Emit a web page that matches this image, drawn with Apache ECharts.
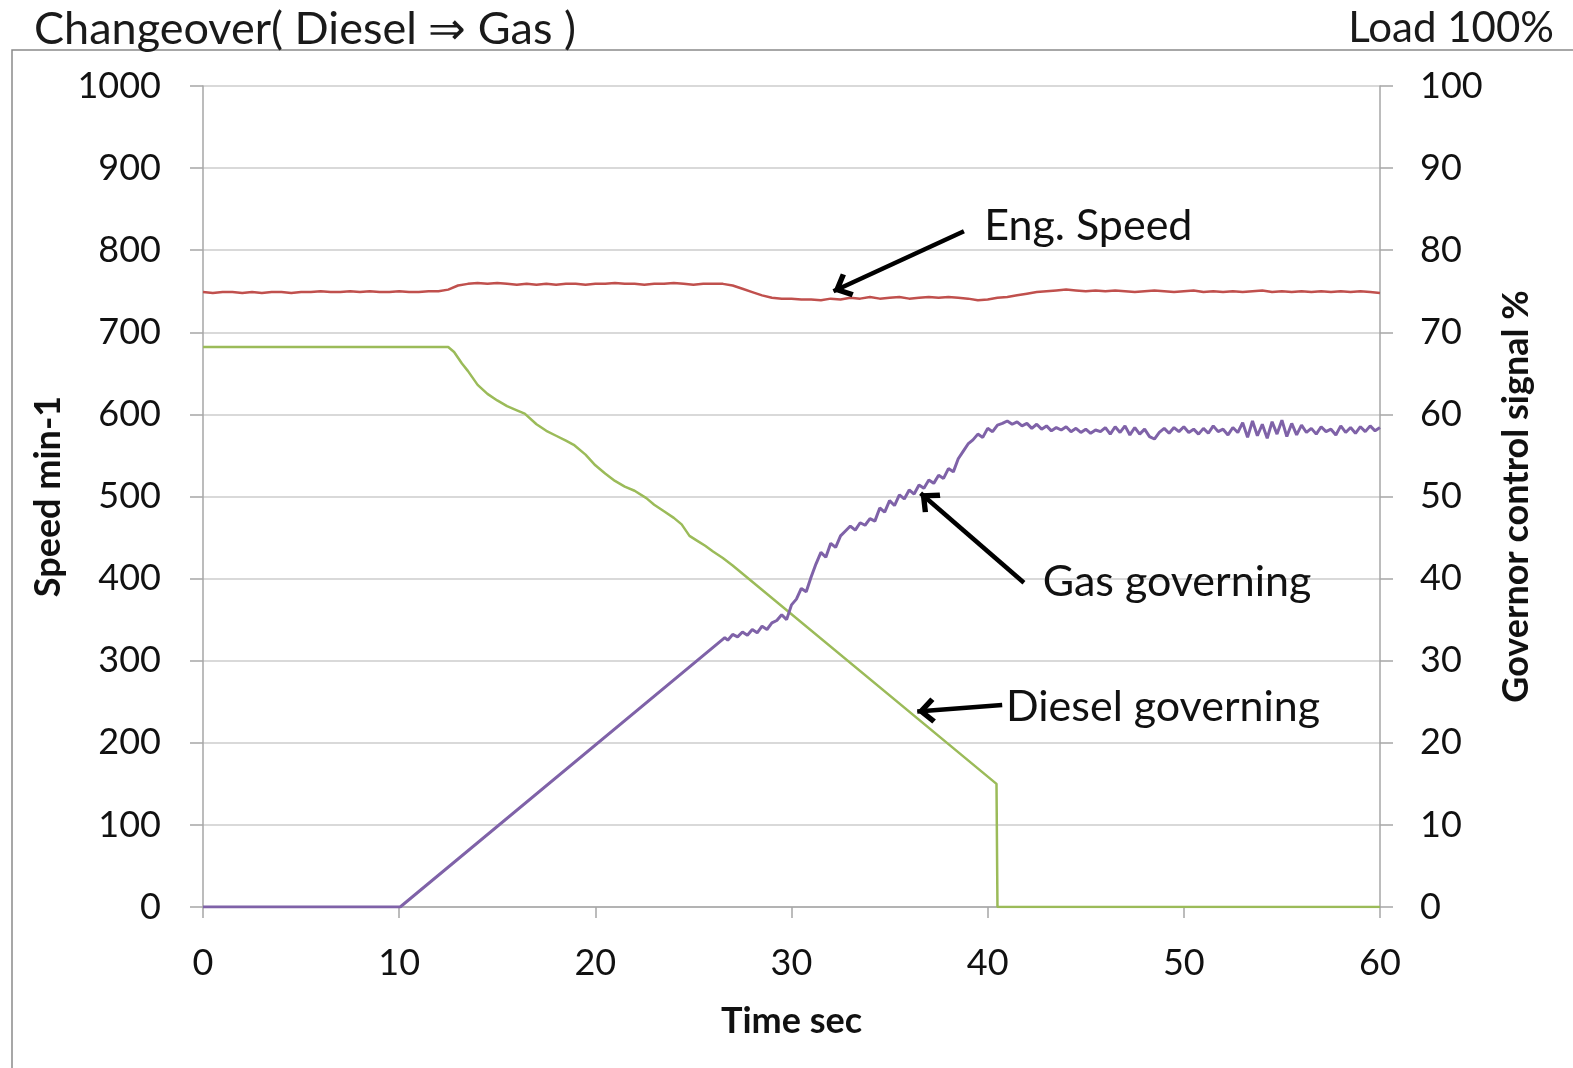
<!DOCTYPE html>
<html>
<head>
<meta charset="utf-8">
<script src="https://cdn.jsdelivr.net/npm/echarts@6/dist/echarts.min.js"></script>
<style>
html,body{margin:0;padding:0;background:#fff;}
#chart{width:1573px;height:1068px;}
</style>
</head>
<body>
<div id="chart"></div>
<script>
// ---- data (time in s) ----
const chartTitle = 'Changeover( Diesel \u21D2 Gas )';
const loadLabel = 'Load 100%';
const xAxisName = 'Time sec';
const leftAxisName = 'Speed min-1';
const rightAxisName = 'Governor control signal %';
const xTicks = [0, 10, 20, 30, 40, 50, 60];
const leftTicks = [0, 100, 200, 300, 400, 500, 600, 700, 800, 900, 1000];
const rightTicks = [0, 10, 20, 30, 40, 50, 60, 70, 80, 90, 100];

// Eng. Speed (min-1), left axis
const engSpeed = [
[0,749],[0.5,748],[1,749],[1.5,749],[2,748],[2.5,749],[3,748],[3.5,749],[4,749],[4.5,748],
[5,749],[5.5,749],[6,750],[6.5,749],[7,749],[7.5,750],[8,749],[8.5,750],[9,749],[9.5,749],
[10,750],[10.5,749],[11,749],[11.5,750],[12,750],[12.5,752],[13,757],[13.5,759],[14,760],[14.5,759],
[15,760],[15.5,759],[16,758],[16.5,759],[17,758],[17.5,759],[18,758],[18.5,759],[19,759],[19.5,758],
[20,759],[20.5,759],[21,760],[21.5,759],[22,759],[22.5,758],[23,759],[23.5,759],[24,760],[24.5,759],
[25,758],[25.5,759],[26,759],[26.5,759],[27,757],[27.5,753],[28,749],[28.5,745],[29,742],[29.5,741],
[30,741],[30.5,740],[31,740],[31.5,739],[32,741],[32.5,740],[33,742],[33.5,741],[34,743],[34.5,741],
[35,742],[35.5,743],[36,741],[36.5,742],[37,743],[37.5,742],[38,743],[38.5,742],[39,741],[39.5,739],
[40,740],[40.5,742],[41,743],[41.5,745],[42,747],[42.5,749],[43,750],[43.5,751],[44,752],[44.5,751],
[45,750],[45.5,751],[46,750],[46.5,751],[47,750],[47.5,749],[48,750],[48.5,751],[49,750],[49.5,749],
[50,750],[50.5,751],[51,749],[51.5,750],[52,749],[52.5,750],[53,749],[53.5,750],[54,751],[54.5,749],
[55,750],[55.5,749],[56,750],[56.5,749],[57,750],[57.5,749],[58,750],[58.5,749],[59,750],[59.5,749],[60,748]
];

// Diesel governing (%), right axis
const dieselGov = [
[0,68.2],[12.5,68.2],[12.8,67.6],[13.2,66.2],[13.5,65.3],[14.0,63.6],[14.5,62.5],[15.0,61.7],
[15.5,61.0],[16.0,60.5],[16.4,60.1],[17.0,58.8],[17.5,58.0],[18.0,57.4],[18.5,56.8],[18.9,56.3],
[19.5,55.1],[20.0,53.8],[20.5,52.8],[21.0,51.9],[21.5,51.2],[22.0,50.7],[22.6,49.8],[23.0,49.0],
[23.5,48.2],[24.0,47.4],[24.4,46.6],[24.8,45.2],[25.2,44.6],[25.6,44.0],[26.0,43.3],[26.5,42.5],
[27.0,41.6],[40.45,15.0],[40.5,0],[60,0]
];

// Gas governing (%), right axis
const gasGov = [
[0,0],[10.05,0],[26.6,32.8],[26.75,32.5],[27.0,33.2],[27.25,32.9],[27.5,33.5],[27.75,33.1],
[28.0,33.8],[28.25,33.4],[28.5,34.2],[28.75,33.8],[29.0,34.6],[29.25,34.9],[29.5,35.6],[29.75,35.0],
[30.0,36.8],[30.25,37.5],[30.5,38.8],[30.75,38.4],[31.0,40.2],[31.25,41.8],[31.5,43.2],[31.75,42.6],
[32.0,44.3],[32.25,43.8],[32.5,45.2],[32.75,45.8],[33.0,46.4],[33.25,45.9],[33.5,46.8],[33.75,46.5],
[34.0,47.3],[34.25,47.0],[34.5,48.6],[34.75,48.1],[35.0,49.5],[35.25,48.9],[35.5,50.2],[35.75,49.7],
[36.0,50.8],[36.25,50.3],[36.5,51.4],[36.75,51.0],[37.0,52.0],[37.25,51.6],[37.5,52.6],[37.75,52.2],
[38.0,53.4],[38.25,53.0],[38.5,54.6],[38.75,55.5],[39.0,56.4],[39.25,56.9],[39.5,57.6],[39.75,57.2],
[40.0,58.3],[40.25,57.9],[40.5,58.7],[40.75,58.9],[41.0,59.2],[41.25,58.8],[41.5,59.1],[41.75,58.6],
[42.0,58.9],[42.25,58.3],[42.5,58.8],[42.75,58.2],[43.0,58.6],[43.25,58.0],[43.5,58.4],[43.75,58.1],
[44.0,58.5],[44.25,57.9],[44.5,58.3],[44.75,57.8],[45.0,58.2],[45.25,57.7],[45.5,58.1],[45.75,57.9],
[46.0,58.4],[46.25,57.6],[46.5,58.5],[46.75,57.8],[47.0,58.6],[47.25,57.5],[47.5,58.4],[47.75,57.6],
[48.0,58.2],[48.25,57.3],[48.5,57.0],[48.75,57.8],[49.0,58.3],[49.25,57.7],[49.5,58.4],[49.75,57.9],
[50.0,58.5],[50.25,57.8],[50.5,58.2],[50.75,57.6],[51.0,58.3],[51.25,57.7],[51.5,58.6],[51.75,57.9],
[52.0,58.2],[52.25,57.5],[52.5,58.4],[52.75,57.8],[53.0,59.0],[53.25,57.2],[53.5,59.2],[53.75,57.4],
[54.0,58.8],[54.25,57.1],[54.5,59.1],[54.75,57.6],[55.0,59.3],[55.25,57.3],[55.5,58.9],[55.75,57.5],
[56.0,58.7],[56.25,57.8],[56.5,58.3],[56.75,57.6],[57.0,58.5],[57.25,57.9],[57.5,58.2],[57.75,57.5],
[58.0,58.6],[58.25,57.8],[58.5,58.4],[58.75,57.7],[59.0,58.5],[59.25,57.9],[59.5,58.6],[59.75,58.0],[60.0,58.4]
];

// annotations (in time / speed units of the left axis)
const annotationTexts = ['Eng. Speed', 'Gas governing', 'Diesel governing'];
const annotationTextAt = [[39.8, 829], [42.78, 396], [40.91, 243]];
const arrowFrom = [[38.79, 823], [41.85, 395], [40.74, 246]];
const arrowTo = [[32.14, 750], [36.58, 504], [36.41, 238]];

// ---- chart ----
const FONT = 'Lato, "Open Sans", sans-serif';
const chart = echarts.init(document.getElementById('chart'), null, {renderer: 'canvas'});
const axisGray = '#A6A6A6';
const gridGray = '#D9D9D9';
const chevron = 'path://M10,0 L20,10 L17.2,12.8 L10,5.6 L2.8,12.8 L0,10 Z';
const plain = v => String(v);

const option = {
  backgroundColor: '#ffffff',
  animation: false,
  title: [
    {text: chartTitle, left: 29, top: 2, textStyle: {fontFamily: FONT, fontSize: 45, fontWeight: 'normal', color: '#1a1a1a'}},
    {text: loadLabel, right: 14, top: 2, textStyle: {fontFamily: FONT, fontSize: 42, fontWeight: 'normal', color: '#1a1a1a'}}
  ],
  graphic: [
    {type: 'polyline', shape: {points: [[12, 1068], [12, 50], [1573, 50]]}, style: {stroke: '#8a8a8a', lineWidth: 1.5, fill: null}, silent: true}
  ],
  grid: {left: 203, right: 193, top: 86, bottom: 161, containLabel: false, outerBoundsMode: 'none'},
  xAxis: {
    type: 'value', min: xTicks[0], max: xTicks[xTicks.length - 1], interval: xTicks[1] - xTicks[0],
    name: xAxisName, nameLocation: 'middle', nameGap: 96,
    nameTextStyle: {fontFamily: FONT, fontSize: 36, fontWeight: 'bold', color: '#111'},
    axisLine: {show: true, onZero: false, lineStyle: {color: axisGray, width: 1.5}},
    axisTick: {show: true, inside: false, length: 11, lineStyle: {color: axisGray, width: 1.5}},
    axisLabel: {margin: 38, fontFamily: FONT, fontSize: 36, color: '#111', formatter: plain},
    splitLine: {show: false}
  },
  yAxis: [
    {
      type: 'value', min: leftTicks[0], max: leftTicks[leftTicks.length - 1], interval: leftTicks[1] - leftTicks[0],
      name: leftAxisName, nameLocation: 'middle', nameGap: 136, nameRotate: 90,
      nameTextStyle: {fontFamily: FONT, fontSize: 36, fontWeight: 'bold', color: '#111'},
      axisLine: {show: true, lineStyle: {color: axisGray, width: 1.5}},
      axisTick: {show: true, inside: false, length: 13, lineStyle: {color: axisGray, width: 1.5}},
      axisLabel: {margin: 42, fontFamily: FONT, fontSize: 36, color: '#111', formatter: plain},
      splitLine: {show: true, lineStyle: {color: gridGray, width: 2}}
    },
    {
      type: 'value', min: rightTicks[0], max: rightTicks[rightTicks.length - 1], interval: rightTicks[1] - rightTicks[0],
      position: 'right',
      name: rightAxisName, nameLocation: 'middle', nameGap: 118, nameRotate: 90,
      nameTextStyle: {fontFamily: FONT, fontSize: 36, fontWeight: 'bold', color: '#111'},
      axisLine: {show: true, lineStyle: {color: axisGray, width: 1.5}},
      axisTick: {show: true, inside: false, length: 13, lineStyle: {color: axisGray, width: 1.5}},
      axisLabel: {margin: 40, fontFamily: FONT, fontSize: 36, color: '#111', formatter: plain},
      splitLine: {show: false}
    }
  ],
  series: [
    {
      name: 'Eng. Speed', type: 'line', yAxisIndex: 0, data: engSpeed,
      showSymbol: false, symbol: 'none', smooth: false,
      lineStyle: {color: '#C0504D', width: 2.5}, itemStyle: {color: '#C0504D'},
      z: 3,
      markLine: {
        silent: true, animation: false,
        symbol: ['none', chevron], symbolSize: [26, 18], symbolOffset: [0, [0, 9]],
        lineStyle: {color: '#000', width: 4.5, type: 'solid'},
        label: {show: false},
        emphasis: {disabled: true},
        data: arrowFrom.map((p, i) => [{coord: p}, {coord: arrowTo[i]}])
      },
      markPoint: {
        silent: true, animation: false,
        symbol: 'circle', symbolSize: 1, itemStyle: {color: 'rgba(0,0,0,0)'},
        label: {show: true, position: 'right', distance: 0, formatter: '{b}', fontFamily: FONT, fontSize: 43, color: '#111'},
        data: annotationTexts.map((t, i) => ({name: t, coord: annotationTextAt[i]}))
      }
    },
    {
      name: 'Diesel governing', type: 'line', yAxisIndex: 1, data: dieselGov,
      showSymbol: false, symbol: 'none', smooth: false,
      lineStyle: {color: '#9BBB59', width: 2.5}, itemStyle: {color: '#9BBB59'}, z: 2
    },
    {
      name: 'Gas governing', type: 'line', yAxisIndex: 1, data: gasGov,
      showSymbol: false, symbol: 'none', smooth: false,
      lineStyle: {color: '#7F62A8', width: 3}, itemStyle: {color: '#7F62A8'}, z: 2
    }
  ]
};
chart.setOption(option);
</script>
</body>
</html>
